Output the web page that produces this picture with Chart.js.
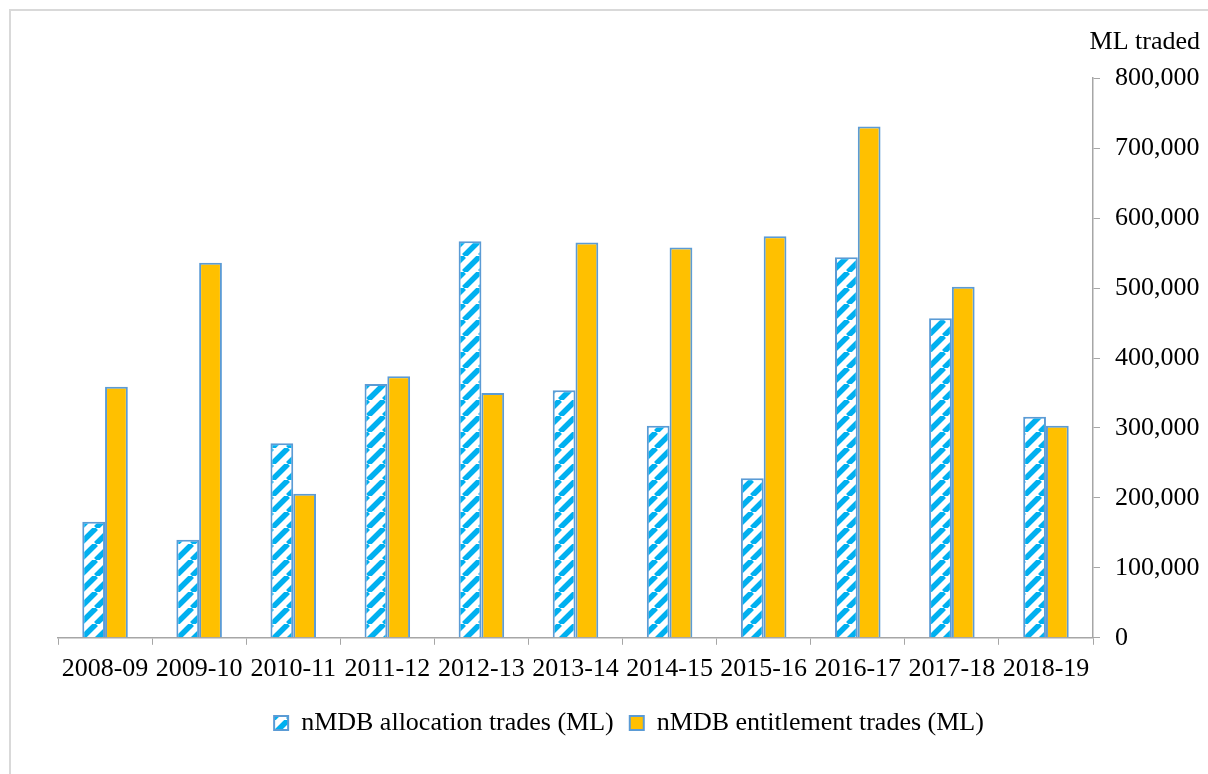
<!DOCTYPE html>
<html>
<head>
<meta charset="utf-8">
<script src="https://cdn.jsdelivr.net/npm/chart.js@4.4.1/dist/chart.umd.min.js"></script>
<style>
  html, body { margin: 0; padding: 0; background: #fff; overflow: hidden; }
  #frame {
    position: absolute; left: 9px; top: 9px; width: 1400px; height: 1000px;
    border-left: 2px solid #d9d9d9; border-top: 2px solid #d9d9d9;
  }
  #wrap { position: absolute; left: 0; top: 0; width: 1208px; height: 774px; }
</style>
</head>
<body>
<div id="frame"></div>
<div id="wrap"><canvas id="chart"></canvas></div>
<script>
const SEASONS = ['2008-09', '2009-10', '2010-11', '2011-12', '2012-13', '2013-14',
  '2014-15', '2015-16', '2016-17', '2017-18', '2018-19'];
const ALLOCATION_ML = [166000, 140000, 278000, 363000, 567000, 354000,
  303000, 228000, 544000, 457000, 316000];
const ENTITLEMENT_ML = [359000, 536000, 206000, 374000, 350000, 565000,
  558000, 574000, 731000, 502000, 303000];
const Y_TICKS = [0, 100000, 200000, 300000, 400000, 500000, 600000, 700000, 800000];

const COLOR_HATCH = '#00b0f0';
const COLOR_ENTITLEMENT = '#ffc000';
const COLOR_EDGE = '#5b9bd5';
const COLOR_AXIS = '#a6a6a6';
const FONT = { family: "'Liberation Serif', 'Times New Roman', serif", size: 26 };

// upward diagonal stripes on white
const makeHatch = () => {
  const size = 16;
  const tile = document.createElement('canvas');
  tile.width = size;
  tile.height = size;
  const t = tile.getContext('2d');
  t.fillStyle = '#fff';
  t.fillRect(0, 0, size, size);
  t.strokeStyle = COLOR_HATCH;
  t.lineWidth = 5.5;
  t.beginPath();
  for (let k = -1; k <= 1; k++) {
    t.moveTo(k * size, size);
    t.lineTo(k * size + size, 0);
  }
  t.stroke();
  return t.createPattern(tile, 'repeat');
};

Chart.defaults.font.family = FONT.family;
Chart.defaults.font.size = FONT.size;
Chart.defaults.color = '#000';

const ctx = document.getElementById('chart');

new Chart(ctx, {
  type: 'bar',
  data: {
    labels: SEASONS,
    datasets: [
      {
        label: 'nMDB allocation trades (ML)',
        data: ALLOCATION_ML,
        backgroundColor: makeHatch(),
        borderColor: COLOR_EDGE,
        borderWidth: 2,
        categoryPercentage: 0.484,
        barPercentage: 1.0,
      },
      {
        label: 'nMDB entitlement trades (ML)',
        data: ENTITLEMENT_ML,
        backgroundColor: COLOR_ENTITLEMENT,
        borderColor: COLOR_EDGE,
        borderWidth: 2,
        categoryPercentage: 0.484,
        barPercentage: 1.0,
      },
    ],
  },
  options: {
    responsive: true,
    maintainAspectRatio: false,
    animation: false,
    layout: { padding: { top: 10, right: 8, left: 58, bottom: 28 } },
    scales: {
      x: {
        offset: true,
        grid: {
          offset: true,
          drawOnChartArea: false,
          color: COLOR_AXIS,
          tickLength: 7,
        },
        border: { color: COLOR_AXIS, width: 1.5 },
        ticks: { color: '#000', maxRotation: 0, autoSkip: false, padding: 9 },
      },
      y: {
        position: 'right',
        min: 0,
        max: 800000,
        afterBuildTicks: (scale) => {
          scale.ticks = Y_TICKS.map((value) => ({ value }));
        },
        afterFit: (scale) => {
          scale.width = 107;
        },
        grid: {
          drawOnChartArea: false,
          color: COLOR_AXIS,
          tickLength: 7,
        },
        border: { color: COLOR_AXIS, width: 1.5 },
        ticks: {
          color: '#000',
          padding: 15,
          callback: (v) => Number(v).toLocaleString('en-US'),
        },
      },
    },
    plugins: {
      title: {
        display: true,
        text: 'ML traded',
        align: 'end',
        color: '#000',
        font: { family: FONT.family, size: FONT.size, weight: 'normal' },
        padding: { top: 17, bottom: 20 },
      },
      legend: {
        position: 'bottom',
        labels: {
          boxWidth: 14,
          boxHeight: 14,
          padding: 16,
          color: '#000',
          font: FONT,
        },
      },
      tooltip: { enabled: false },
    },
  },
});
</script>
</body>
</html>
